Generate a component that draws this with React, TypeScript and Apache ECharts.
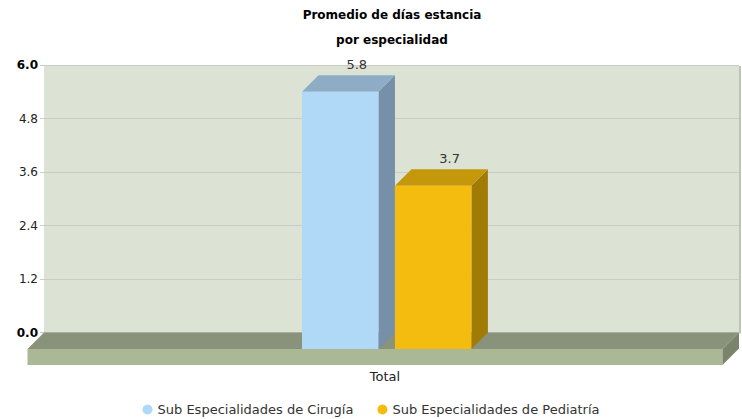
import React, { useEffect, useRef } from "react";
import * as echarts from "echarts";

const chartTitle = "Promedio de días estancia\npor especialidad";
const categories = ["Total"];
const seriesNames = ["Sub Especialidades de Cirugía", "Sub Especialidades de Pediatría"];
const cirugiaValues = [5.77];
const pediatriaValues = [3.66];
const yMin = 0;
const yMax = 6;
const yInterval = 1.2;

const FONT = "DejaVu Sans";
const DEPTH = 16.5;

const palette = [
  { front: "#b0d8f7", top: "#8eacc6", side: "#7590a8" },
  { front: "#f5bc10", top: "#c5970b", side: "#a07c07" },
];

function barRenderer(idx: number) {
  return (params: any, api: any) => {
    const cat = api.value(0);
    const v = api.value(1);
    const top = api.coord([cat, v]);
    const base = api.coord([cat, 0]);
    const band = api.size([1, 0])[0];
    const w = band * 0.11;
    const d = DEPTH;
    const L = top[0] - 89.5 + idx * (w + d);
    const yt = top[1];
    const yb = base[1];
    const c = palette[idx];
    return {
      type: "group",
      children: [
        {
          type: "polygon",
          shape: { points: [[L + w, yt + d], [L + w + d, yt], [L + w + d, yb], [L + w, yb + d]] },
          style: { fill: c.side },
        },
        {
          type: "polygon",
          shape: { points: [[L, yt + d], [L + w, yt + d], [L + w + d, yt], [L + d, yt]] },
          style: { fill: c.top },
        },
        {
          type: "rect",
          shape: { x: L, y: yt + d, width: w, height: yb - yt },
          style: { fill: c.front },
        },
        {
          type: "text",
          x: L + d + w / 2,
          y: yt - 11,
          style: {
            text: v.toFixed(1),
            fill: "#333333",
            font: `13px "${FONT}"`,
            align: "center",
            verticalAlign: "middle",
          },
        },
      ],
    };
  };
}

function floorRenderer(params: any) {
  const cs = params.coordSys;
  const x0 = cs.x;
  const x1 = cs.x + cs.width;
  const yb = cs.y + cs.height;
  const d = DEPTH;
  const t = 16;
  return {
    type: "group",
    children: [
      {
        type: "rect",
        shape: { x: x1, y: cs.y + 1, width: 2, height: cs.height },
        style: { fill: "#bfc4b9" },
      },
      {
        type: "polygon",
        shape: { points: [[x0, yb], [x1, yb], [x1 - d, yb + d], [x0 - d, yb + d]] },
        style: { fill: "#89927a" },
      },
      {
        type: "rect",
        shape: { x: x0 - d, y: yb + d, width: x1 - x0, height: t },
        style: { fill: "#abb896" },
      },
      {
        type: "polygon",
        shape: { points: [[x1 - d, yb + d], [x1, yb], [x1, yb + t], [x1 - d, yb + d + t]] },
        style: { fill: "#7b846b" },
      },
    ],
  };
}

export default function App() {
  const ref = useRef<HTMLDivElement>(null);
  useEffect(() => {
    document.body.style.margin = "0";
    const chart = echarts.init(ref.current!, null, { renderer: "svg" });
    chart.setOption({
      animation: false,
      textStyle: { fontFamily: FONT },
      title: {
        text: chartTitle,
        left: 392,
        textAlign: "center",
        top: 2.5,
        padding: 0,
        textStyle: { fontSize: 12, fontWeight: "bold", color: "#000000", lineHeight: 25, fontFamily: FONT },
      },
      grid: {
        left: 44,
        right: 3,
        top: 65,
        bottom: 86.5,
        show: true,
        backgroundColor: "#dce3d4",
        borderWidth: 0,
      },
      legend: {
        data: seriesNames,
        left: "center",
        top: 403,
        padding: 0,
        icon: "circle",
        itemWidth: 10,
        itemHeight: 10,
        itemGap: 24,
        textStyle: { fontSize: 13, color: "#333333", fontFamily: FONT },
      },
      xAxis: {
        type: "category",
        data: categories,
        axisLine: { show: false },
        axisTick: { show: false },
        axisLabel: {
          margin: 37,
          fontSize: 13,
          color: "#222222",
          fontFamily: FONT,
          padding: [0, 13, 0, 0],
        },
      },
      yAxis: {
        type: "value",
        min: yMin,
        max: yMax,
        interval: yInterval,
        axisLine: { show: false },
        axisTick: { show: true, length: 4, lineStyle: { color: "#c8cdc5" } },
        splitLine: { lineStyle: { color: "#c8cdc5", width: 1 } },
        axisLabel: {
          margin: 6,
          formatter: (val: number) => {
            const s = val.toFixed(1);
            return Math.abs(val - yMin) < 1e-9 || Math.abs(val - yMax) < 1e-9 ? `{b|${s}}` : `{n|${s}}`;
          },
          rich: {
            b: { fontSize: 12, fontWeight: "bold", color: "#000000", fontFamily: FONT },
            n: { fontSize: 12, color: "#222222", fontFamily: FONT },
          },
        },
      },
      series: [
        {
          type: "custom",
          name: "floor",
          silent: true,
          clip: false,
          z: 1,
          renderItem: floorRenderer,
          data: [[0, 0]],
        },
        {
          type: "custom",
          name: seriesNames[0],
          clip: false,
          z: 2,
          itemStyle: { color: palette[0].front },
          renderItem: barRenderer(0),
          data: categories.map((_, i) => [i, cirugiaValues[i]]),
        },
        {
          type: "custom",
          name: seriesNames[1],
          clip: false,
          z: 3,
          itemStyle: { color: palette[1].front },
          renderItem: barRenderer(1),
          data: categories.map((_, i) => [i, pediatriaValues[i]]),
        },
      ],
    });
    return () => chart.dispose();
  }, []);
  return <div ref={ref} style={{ width: 742, height: 419 }} />;
}
